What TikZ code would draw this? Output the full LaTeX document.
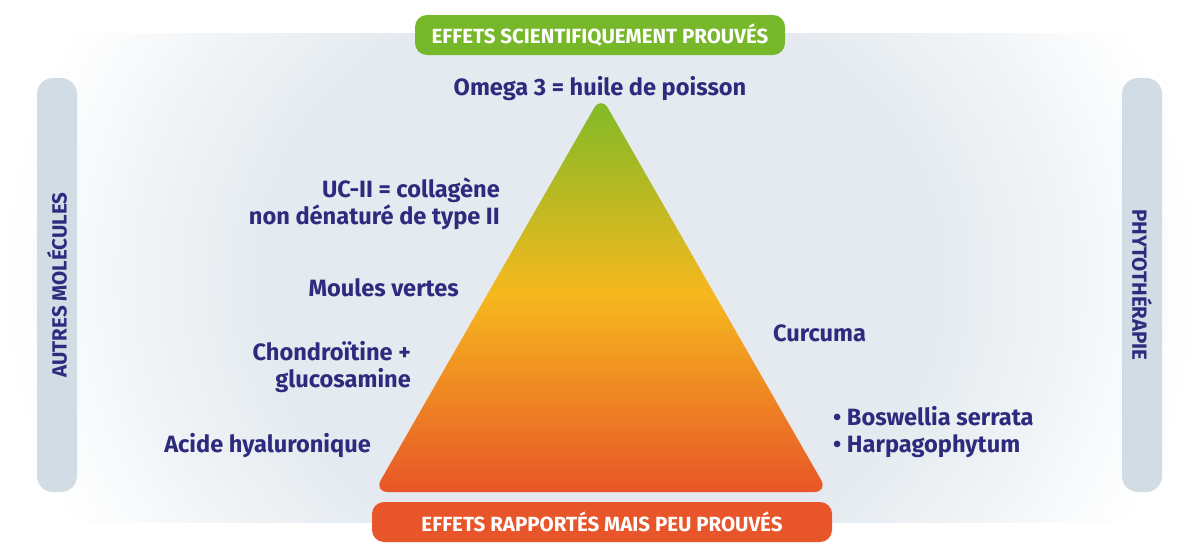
\documentclass[tikz,border=0pt]{standalone}
\usepackage{fontspec}
\setmainfont{Fira Sans}
\usepackage{tikz}
\definecolor{navy}{HTML}{2E2A7E}
\definecolor{pillgreen}{HTML}{76B82A}
\definecolor{pillorange}{HTML}{E8552A}
\definecolor{bargrey}{HTML}{D1DCE4}
\definecolor{bandblue}{HTML}{E4EAEF}
\definecolor{trigreen}{HTML}{7DBA28}
\definecolor{triyellow}{HTML}{F6B81E}
\definecolor{triorange}{HTML}{E85628}
\pgfdeclareradialshading{bandglow}{\pgfpoint{0bp}{0bp}}{color(0bp)=(bandblue); color(14bp)=(bandblue); color(25bp)=(white); color(100bp)=(white)}
\tikzset{
  pill/.style={rounded corners=12pt, minimum height=40pt, inner sep=0pt,
    text=white, font=\bfseries\fontsize{20.5}{22}\selectfont},
  sidebar/.style={fill=bargrey, rounded corners=16pt, minimum width=414pt,
    minimum height=40pt, inner sep=0pt, text=navy,
    font=\bfseries\fontsize{20.5}{22}\selectfont},
  itemtext/.style={text=navy, inner sep=0pt,
    font=\bfseries\fontsize{23.6}{27}\selectfont}
}

\begin{document}
\begin{tikzpicture}[x=1pt,y=-1pt]
\useasboundingbox (0,0) rectangle (1200,557);
% soft band behind everything
\begin{scope}
\clip (0,33) rectangle (1200,522);
\shade[shading=bandglow] (0,-250) rectangle (1200,805);
\end{scope}
% side categories
\node[sidebar, rotate=90] (autres) at (57,285) {AUTRES MOLÉCULES};
\node[sidebar, rotate=-90] (phyto) at (1142,285) {PHYTOTHÉRAPIE};
% the pyramid
\coordinate (apex) at (601,96);
\coordinate (baseR) at (828,492);
\coordinate (baseL) at (374,492);
\shade[top color=trigreen, bottom color=triorange, middle color=triyellow,
  rounded corners=14pt] (apex) -- (baseR) -- (baseL) -- cycle;
% top and bottom banners
\node[pill, fill=pillgreen, minimum width=370pt] (prouves) at (600,35)
  {EFFETS SCIENTIFIQUEMENT PROUVÉS};
\node[pill, fill=pillorange, minimum width=460pt] (rapportes) at (602,522)
  {EFFETS RAPPORTÉS MAIS PEU PROUVÉS};
% left column
\node[itemtext] (omega) at (600,89) {Omega 3 = huile de poisson};
\node[itemtext, anchor=east, align=right] (ucii) at (500,204)
  {UC-II = collagène\\non dénaturé de type II};
\node[itemtext, anchor=east] (moules) at (459,288) {Moules vertes};
\node[itemtext, anchor=east, align=right] (chondro) at (411,367)
  {Chondroïtine +\\glucosamine};
\node[itemtext, anchor=east] (acide) at (371,446) {Acide hyaluronique};
% right column
\node[itemtext, anchor=west] (curcuma) at (773,333) {Curcuma};
\node[itemtext, anchor=west, align=left] (boswellia) at (833,432)
  {\textbullet\ Boswellia serrata\\\textbullet\ Harpagophytum};
\end{tikzpicture}
\end{document}
